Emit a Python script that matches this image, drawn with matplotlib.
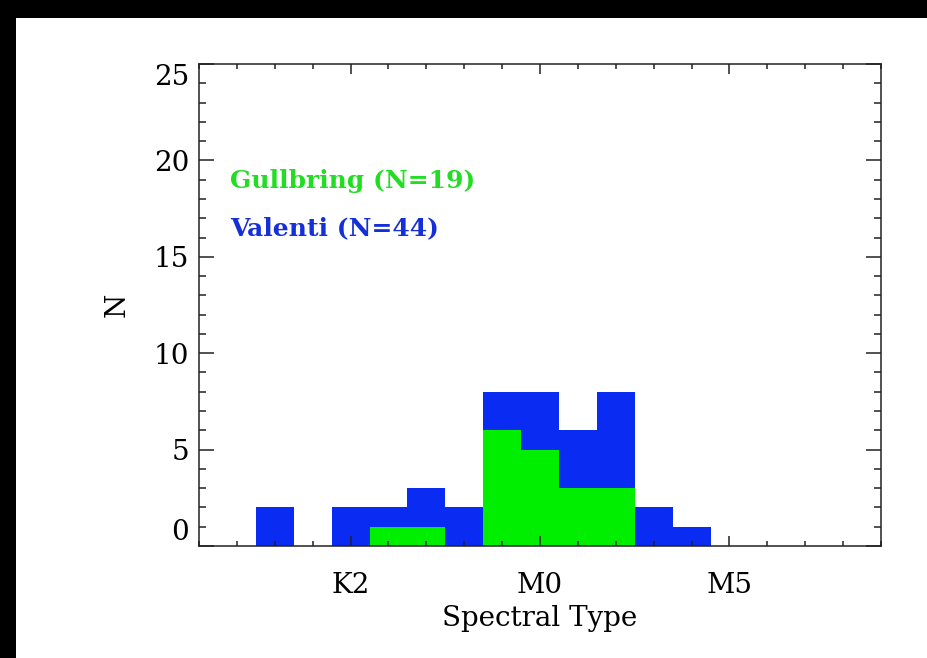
'''Spectral type histogram: Gullbring vs Valenti samples'''

import matplotlib
matplotlib.use("Agg")
import matplotlib.pyplot as plt
from matplotlib.patches import Rectangle
from matplotlib.ticker import MultipleLocator
import numpy as np

# spectral subtype index (K2 = 4, M0 = 9, M5 = 14)
subtype = np.arange(2, 14)
valenti = [2, 0, 2, 2, 3, 2, 8, 8, 6, 8, 2, 1]
gullbring = [0, 0, 0, 1, 1, 0, 6, 5, 3, 3, 0, 0]
tick_pos = [4, 9, 14]
tick_labels = ["K2", "M0", "M5"]

blue = "#0a2cf2"
green = "#00ee00"
font = "DejaVu Serif"

fig = plt.figure(figsize=(9.27, 6.58), dpi=100)
fig.patch.set_facecolor("black")
# white page with black strip on top and left
fig.add_artist(Rectangle((16 / 927, 0), 1, 1 - 18 / 658, transform=fig.transFigure,
	facecolor="white", edgecolor="none", zorder=-5))

ax = fig.add_axes([199 / 927, 1 - 546 / 658, 682 / 927, 482 / 658])
ax.bar(subtype, valenti, width=1.0, color=blue, linewidth=0)
ax.bar(subtype, gullbring, width=1.0, color=green, linewidth=0)

ax.set_xlim(0, 18)
ax.set_ylim(0, 25)

ax.set_xticks(tick_pos)
ax.set_xticklabels(tick_labels)
ax.xaxis.set_minor_locator(MultipleLocator(1))
ax.set_yticks([0, 5, 10, 15, 20, 25])
ax.yaxis.set_minor_locator(MultipleLocator(1))

ax.tick_params(axis="both", which="both", direction="in", top=True, right=True,
	width=1.1, color="#222222")
ax.tick_params(axis="x", which="major", length=7.5, pad=19)
ax.tick_params(axis="x", which="minor", length=3.8)
ax.tick_params(axis="y", which="major", length=10.5, pad=7)
ax.tick_params(axis="y", which="minor", length=5)
for lab in ax.get_xticklabels() + ax.get_yticklabels():
	lab.set_fontfamily(font)
	lab.set_fontsize(20)

# shift end labels inward like the original
yticks = ax.yaxis.get_major_ticks()
yticks[0].label1.set_va("bottom")
yticks[-1].label1.set_va("top")

for s in ax.spines.values():
	s.set_linewidth(1.1)
	s.set_color("#222222")

ax.set_xlabel("Spectral Type", fontfamily=font, fontsize=20, labelpad=4)
ax.set_ylabel("N", fontfamily=font, fontsize=20, labelpad=17)

ax.text(0.045, 0.758, "Gullbring (N=19)", transform=ax.transAxes, color="#22dd22",
	fontfamily=font, fontweight="bold", fontsize=18, va="center")
ax.text(0.045, 0.66, "Valenti (N=44)", transform=ax.transAxes, color="#1530d8",
	fontfamily=font, fontweight="bold", fontsize=18, va="center")

fig.savefig("out.png", dpi=100, facecolor=fig.get_facecolor())
